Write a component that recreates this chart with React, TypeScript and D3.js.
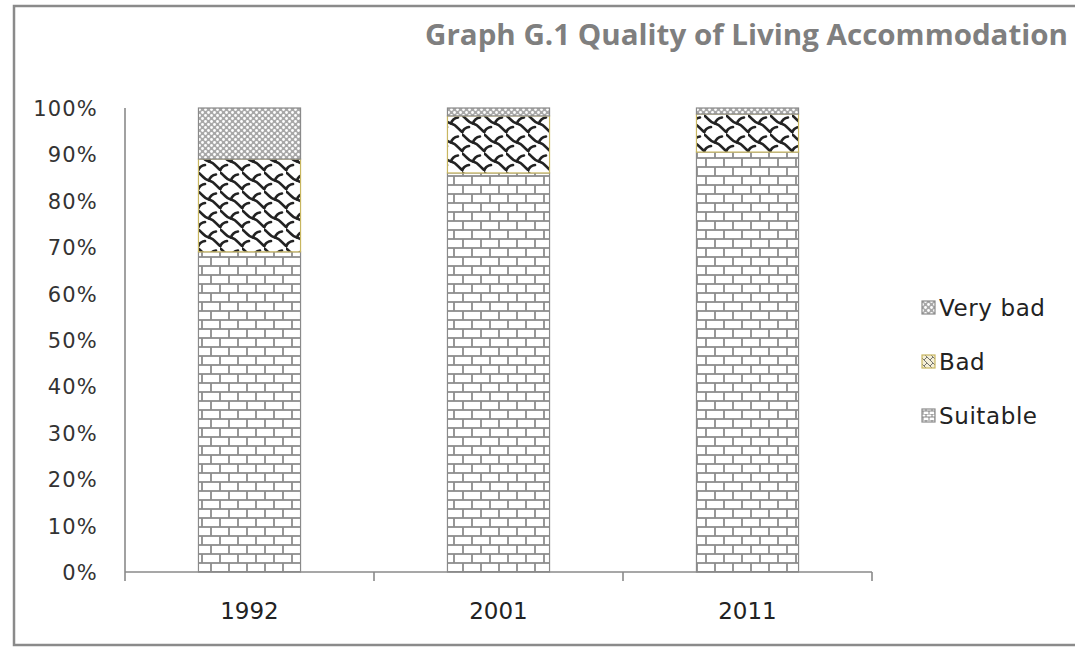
import React from "react";
import * as d3 from "d3";

const years = ["1992", "2001", "2011"];
const suitable = [69, 86, 90.5];
const bad = [20, 12.3, 8.2];
const veryBad = [11, 1.7, 1.3];
const yTicks = [0, 10, 20, 30, 40, 50, 60, 70, 80, 90, 100];
const seriesNames = ["Suitable", "Bad", "Very bad"];
const title = "Graph G.1 Quality of Living Accommodation";

const W = 1075;
const H = 647;

export default function App() {
  const x = d3
    .scaleBand<string>()
    .domain(years)
    .range([125, 872])
    .paddingInner(0.59)
    .paddingOuter(0.295);
  const y = d3.scaleLinear().domain([0, 100]).range([572, 108]);

  const rows = years.map((yr, i) => ({
    year: yr,
    Suitable: suitable[i],
    Bad: bad[i],
    "Very bad": veryBad[i],
  }));
  const stacked = d3.stack<any>().keys(seriesNames)(rows);

  const fills: Record<string, string> = {
    Suitable: "url(#brick)",
    Bad: "url(#shingle)",
    "Very bad": "url(#dots)",
  };
  const strokes: Record<string, string> = {
    Suitable: "#8a8a8a",
    Bad: "#c8b660",
    "Very bad": "#8a8a8a",
  };

  const step = x.step();
  const boundaries = d3.range(years.length + 1).map((k) => 125 + k * step);

  const legendItems = ["Very bad", "Bad", "Suitable"];

  return (
    <svg
      width={W}
      height={H}
      style={{ position: "absolute", left: 0, top: 0, background: "#fff" }}
    >
      <defs>
        <pattern
          id="brick"
          patternUnits="userSpaceOnUse"
          width={18}
          height={18}
          x={0}
          y={572 % 18}
        >
          <rect width={18} height={18} fill="#fff" />
          <g stroke="#8c8c8c" strokeWidth={1.8} fill="none">
            <line x1={0} y1={0} x2={18} y2={0} />
            <line x1={0} y1={9} x2={18} y2={9} />
            <line x1={0} y1={18} x2={18} y2={18} />
            <line x1={4} y1={0} x2={4} y2={9} />
            <line x1={13} y1={9} x2={13} y2={18} />
          </g>
        </pattern>
        <pattern
          id="dots"
          patternUnits="userSpaceOnUse"
          width={6}
          height={6}
        >
          <rect width={6} height={6} fill="#a8a8a8" />
          <circle cx={1.5} cy={1.5} r={1.4} fill="#fff" />
          <circle cx={4.5} cy={4.5} r={1.4} fill="#fff" />
        </pattern>
        <pattern
          id="shingle"
          patternUnits="userSpaceOnUse"
          width={22}
          height={19}
        >
          <rect width={22} height={19} fill="#fff" />
          <g stroke="#222" strokeWidth={2.6} fill="none" strokeLinecap="round">
            <path d="M-3,0 C3,1 4,8 11,9.5 C18,11 19,18 25,19" />
            <path d="M-14,9.5 C-7,11 -6,18 0,19" />
            <path d="M11,-9.5 C18,-8 19,-1 25,0" />
            <path d="M11,9.5 C12,6 15,4 18,3.5" />
            <path d="M0,19 C1,15.5 4,13.5 7,13" />
            <path d="M22,19 C23,15.5 26,13.5 29,13" />
          </g>
        </pattern>
        <pattern id="legShingle" patternUnits="userSpaceOnUse" width={6} height={6}>
          <rect width={6} height={6} fill="#f4efd8" />
          <path d="M0,0 L6,6 M0,6 L3,3" stroke="#555" strokeWidth={0.8} />
        </pattern>
        <pattern id="legBrick" patternUnits="userSpaceOnUse" width={6} height={6}>
          <rect width={6} height={6} fill="#fff" />
          <path d="M0,0 H6 M0,3 H6 M2,0 V3 M5,3 V6" stroke="#777" strokeWidth={0.9} />
        </pattern>
      </defs>

      {/* outer frame */}
      <rect
        x={14}
        y={6}
        width={W + 20}
        height={639}
        fill="none"
        stroke="#8a8a8a"
        strokeWidth={2.5}
      />

      {/* title */}
      <text
        x={425}
        y={45}
        fontFamily="'Open Sans', sans-serif"
        fontWeight={700}
        fontSize={29}
        fill="#7f7f7f"
        textLength={643}
        lengthAdjust="spacingAndGlyphs"
      >
        {title}
      </text>

      {/* bars */}
      {stacked.map((s) => (
        <g key={s.key}>
          {s.map((d, i) => (
            <rect
              key={i}
              x={x(years[i])}
              y={y(d[1])}
              width={x.bandwidth()}
              height={y(d[0]) - y(d[1])}
              fill={fills[s.key]}
              stroke={strokes[s.key]}
              strokeWidth={1.2}
            />
          ))}
        </g>
      ))}

      {/* axes */}
      <line x1={125} y1={108} x2={125} y2={572} stroke="#8a8a8a" strokeWidth={1.6} />
      <line x1={125} y1={572} x2={872} y2={572} stroke="#8a8a8a" strokeWidth={1.6} />
      {boundaries.map((bx, i) => (
        <line key={i} x1={bx} y1={572} x2={bx} y2={581} stroke="#8a8a8a" strokeWidth={1.6} />
      ))}

      {yTicks.map((t) => (
        <text
          key={t}
          x={98}
          y={y(t) + 8}
          textAnchor="end"
          fontFamily="'DejaVu Sans', sans-serif"
          fontSize={21}
          letterSpacing={1.2}
          fill="#333"
        >
          {t + "%"}
        </text>
      ))}

      {years.map((yr) => (
        <text
          key={yr}
          x={(x(yr) as number) + x.bandwidth() / 2}
          y={619}
          textAnchor="middle"
          fontFamily="'DejaVu Sans', sans-serif"
          fontSize={23}
          fill="#222"
        >
          {yr}
        </text>
      ))}

      {/* legend */}
      {legendItems.map((name, i) => {
        const cy = 307 + i * 54;
        const sw =
          name === "Very bad" ? "url(#dots)" : name === "Bad" ? "url(#legShingle)" : "url(#legBrick)";
        const st = name === "Bad" ? "#c8b660" : "#8a8a8a";
        return (
          <g key={name}>
            <rect x={922} y={cy - 6} width={13} height={13} fill={sw} stroke={st} strokeWidth={1.2} />
            <text
              x={939}
              y={cy + 9}
              fontFamily="'DejaVu Sans', sans-serif"
              fontSize={23}
              letterSpacing={0.6}
              fill="#222"
            >
              {name}
            </text>
          </g>
        );
      })}
    </svg>
  );
}
